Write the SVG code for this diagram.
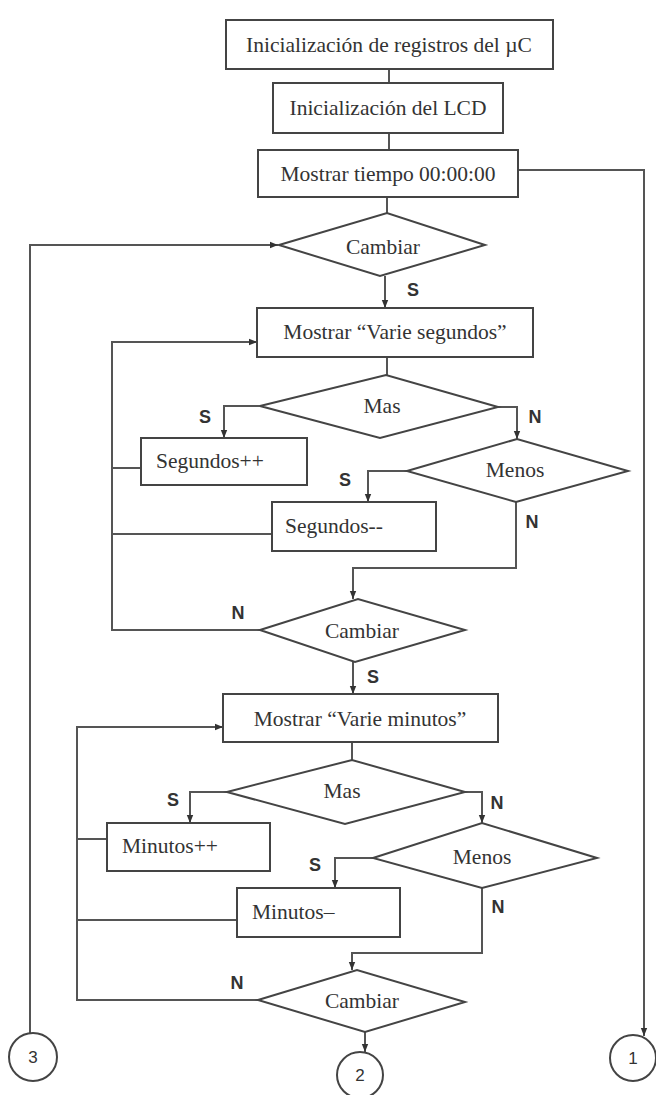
<svg xmlns="http://www.w3.org/2000/svg" width="656" height="1095" viewBox="0 0 656 1095">
<defs>
<marker id="arr" viewBox="0 0 10 10" refX="10" refY="5" markerWidth="8" markerHeight="8" markerUnits="userSpaceOnUse" orient="auto">
<path d="M0,1 L10,5 L0,9 z" fill="#333"/>
</marker>
<style>
.box{fill:#fff;stroke:#444;stroke-width:2}
.dia{fill:#fff;stroke:#444;stroke-width:2}
.ln{fill:none;stroke:#555;stroke-width:2}
.ar{fill:none;stroke:#555;stroke-width:2;marker-end:url(#arr)}
.t{font-family:"Liberation Serif","Times New Roman",serif;font-size:21.5px;fill:#333;text-anchor:middle;dominant-baseline:central}
.tl{font-family:"Liberation Serif","Times New Roman",serif;font-size:21.5px;fill:#333;text-anchor:start;dominant-baseline:central}
.lb{font-family:"Liberation Sans",Arial,sans-serif;font-size:18px;font-weight:bold;fill:#333;text-anchor:middle;dominant-baseline:central}
.c{fill:#fff;stroke:#444;stroke-width:2}
.ct{font-family:"Liberation Sans",Arial,sans-serif;font-size:17px;fill:#333;text-anchor:middle;dominant-baseline:central}
</style>
</defs>
<rect width="656" height="1095" fill="#fff"/>

<g id="connectors">
<line class="ln" x1="389" y1="69" x2="389" y2="83"/>
<line class="ln" x1="389" y1="133" x2="389" y2="150"/>
<line class="ln" x1="387" y1="197" x2="387" y2="213"/>
<polyline class="ar" points="518,170 644,170 644,1036"/>
<polyline class="ar" points="30,1033 30,245 278,245"/>
<line class="ar" x1="385" y1="276" x2="385" y2="308"/>
<line class="ln" x1="387" y1="357" x2="387" y2="375"/>
<polyline class="ar" points="260,406 224,406 224,438"/>
<polyline class="ar" points="498,407 517,407 517,439"/>
<polyline class="ar" points="407,471 368,471 368,502"/>
<polyline class="ar" points="516,502 516,568 353,568 353,599"/>
<line class="ln" x1="141" y1="468" x2="112" y2="468"/>
<line class="ln" x1="272" y1="534" x2="112" y2="534"/>
<polyline class="ar" points="260,630 112,630 112,342 257,342"/>
<line class="ar" x1="353" y1="662" x2="353" y2="694"/>
<line class="ln" x1="352" y1="742" x2="352" y2="760"/>
<polyline class="ar" points="227,792 190,792 190,823"/>
<polyline class="ar" points="465,792 482,792 482,823"/>
<polyline class="ar" points="373,858 335,858 335,888"/>
<polyline class="ar" points="482,888 482,953 352,953 352,970"/>
<line class="ln" x1="107" y1="839" x2="77" y2="839"/>
<line class="ln" x1="237" y1="920" x2="77" y2="920"/>
<polyline class="ar" points="258,1000 77,1000 77,727 223,727"/>
<line class="ar" x1="365" y1="1032" x2="365" y2="1052"/>
</g>

<g id="labels">
<text class="lb" x="413" y="290">S</text>
<text class="lb" x="205" y="417">S</text>
<text class="lb" x="535" y="417">N</text>
<text class="lb" x="345" y="480">S</text>
<text class="lb" x="532" y="522">N</text>
<text class="lb" x="238" y="613">N</text>
<text class="lb" x="373" y="677">S</text>
<text class="lb" x="173" y="800">S</text>
<text class="lb" x="497" y="803">N</text>
<text class="lb" x="315" y="865">S</text>
<text class="lb" x="498" y="907">N</text>
<text class="lb" x="237" y="983">N</text>
</g>

<g id="n-init-uc">
<rect class="box" x="226" y="20" width="327" height="49"/>
<text class="t" x="389" y="45">Inicialización de registros del µC</text>
</g>
<g id="n-init-lcd">
<rect class="box" x="273" y="83" width="230" height="50"/>
<text class="t" x="388" y="108">Inicialización del LCD</text>
</g>
<g id="n-show-time">
<rect class="box" x="258" y="150" width="260" height="47"/>
<text class="t" x="388" y="174">Mostrar tiempo 00:00:00</text>
</g>
<g id="n-cambiar1">
<polygon class="dia" points="279,245 387,213 485,245 380,276"/>
<text class="t" x="383" y="247">Cambiar</text>
</g>
<g id="n-show-seg">
<rect class="box" x="257" y="308" width="276" height="49"/>
<text class="t" x="395" y="332">Mostrar “Varie segundos”</text>
</g>
<g id="n-mas1">
<polygon class="dia" points="260,406 386,375 498,407 380,438"/>
<text class="t" x="382" y="406">Mas</text>
</g>
<g id="n-seg-inc">
<rect class="box" x="141" y="438" width="166" height="47"/>
<text class="tl" x="156" y="461">Segundos++</text>
</g>
<g id="n-menos1">
<polygon class="dia" points="407,471 517,439 628,471 516,502"/>
<text class="t" x="515" y="470">Menos</text>
</g>
<g id="n-seg-dec">
<rect class="box" x="272" y="502" width="164" height="49"/>
<text class="tl" x="285" y="526">Segundos--</text>
</g>
<g id="n-cambiar2">
<polygon class="dia" points="260,630 358,599 465,630 355,662"/>
<text class="t" x="362" y="631">Cambiar</text>
</g>
<g id="n-show-min">
<rect class="box" x="223" y="694" width="275" height="48"/>
<text class="t" x="360" y="719">Mostrar “Varie minutos”</text>
</g>
<g id="n-mas2">
<polygon class="dia" points="227,792 352,760 465,792 345,824"/>
<text class="t" x="342" y="791">Mas</text>
</g>
<g id="n-min-inc">
<rect class="box" x="107" y="823" width="163" height="48"/>
<text class="tl" x="122" y="846">Minutos++</text>
</g>
<g id="n-menos2">
<polygon class="dia" points="373,858 482,823 597,858 482,888"/>
<text class="t" x="482" y="857">Menos</text>
</g>
<g id="n-min-dec">
<rect class="box" x="237" y="888" width="163" height="49"/>
<text class="tl" x="252" y="912">Minutos–</text>
</g>
<g id="n-cambiar3">
<polygon class="dia" points="258,1000 357,970 465,1002 365,1032"/>
<text class="t" x="362" y="1001">Cambiar</text>
</g>
<g id="n-conn1">
<circle class="c" cx="633" cy="1058" r="23"/>
<text class="ct" x="633" y="1058">1</text>
</g>
<g id="n-conn2">
<circle class="c" cx="360" cy="1075" r="23"/>
<text class="ct" x="360" y="1075">2</text>
</g>
<g id="n-conn3">
<circle class="c" cx="33" cy="1057" r="24"/>
<text class="ct" x="33" y="1057">3</text>
</g>
</svg>
